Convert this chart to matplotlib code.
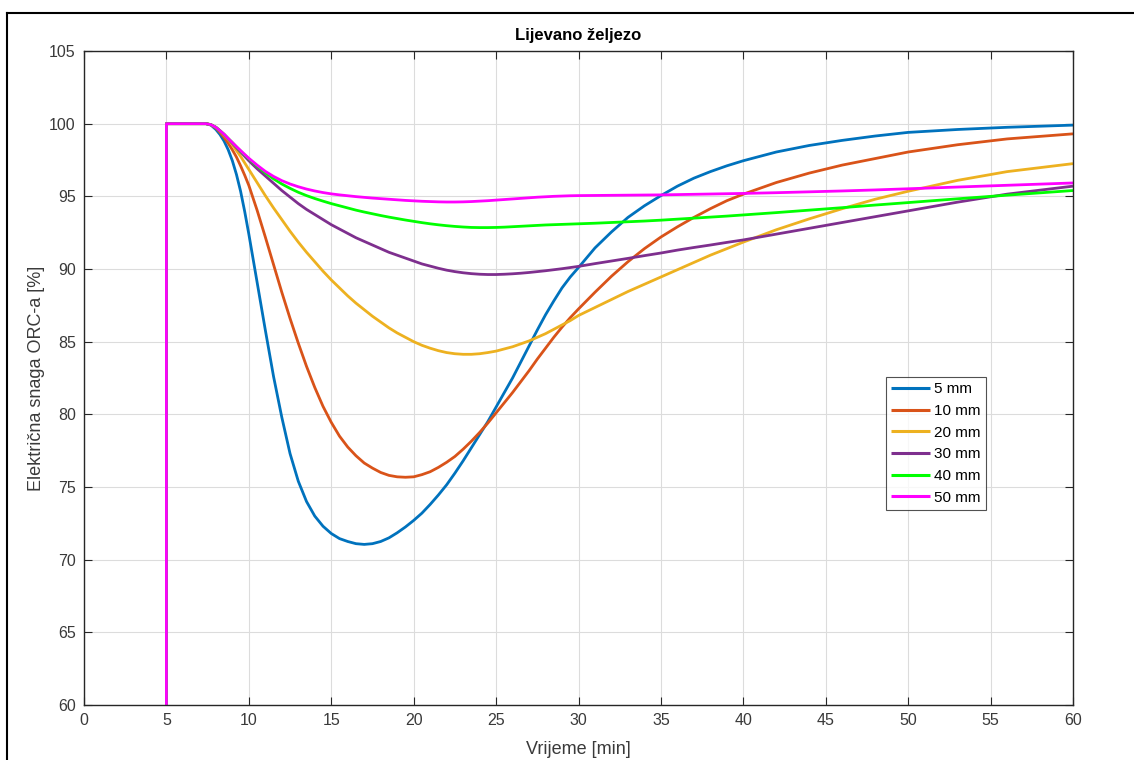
import matplotlib
matplotlib.use("Agg")
import matplotlib.pyplot as plt
from matplotlib.lines import Line2D

plt.rcParams['font.family'] = ['Liberation Sans', 'DejaVu Sans']

# ---- data ----
time_min = [5, 5, 7.4, 7.7, 8, 8.25, 8.5, 8.75, 9, 9.25, 9.5, 9.75, 10,
            10.5, 11, 11.5, 12, 12.5, 13, 13.5, 14, 14.5, 15,
            15.5, 16, 16.5, 17, 17.5, 18, 18.5, 19, 19.5, 20,
            20.5, 21, 21.5, 22, 22.5, 23, 23.5, 24, 24.5, 25,
            25.5, 26, 26.5, 27, 27.5, 28, 28.5, 29, 29.5, 30,
            31, 32, 33, 34, 35, 36, 37, 38, 39, 40,
            42, 44, 46, 48, 50, 53, 56, 60]

p_5mm = [60, 100, 100, 99.9, 99.6, 99.25, 98.8, 98.2, 97.45, 96.5, 95.35, 93.95, 92.4,
         89.1, 85.8, 82.6, 79.8, 77.3, 75.4, 74.0, 73.0, 72.3, 71.8,
         71.45, 71.25, 71.1, 71.05, 71.1, 71.25, 71.5, 71.85, 72.25, 72.7,
         73.2, 73.8, 74.45, 75.15, 75.95, 76.8, 77.7, 78.6, 79.5, 80.5,
         81.5, 82.5, 83.6, 84.7, 85.8, 86.85, 87.8, 88.7, 89.45, 90.1,
         91.45, 92.55, 93.55, 94.35, 95.05, 95.7, 96.25, 96.7, 97.1, 97.45,
         98.05, 98.5, 98.85, 99.15, 99.4, 99.6, 99.75, 99.9]
p_10mm = [60, 100, 100, 99.92, 99.7, 99.4, 99.05, 98.65, 98.2, 97.7, 97.1, 96.45, 95.75,
          94.05, 92.2, 90.3, 88.4, 86.6, 84.9, 83.3, 81.85, 80.55, 79.45,
          78.5, 77.75, 77.15, 76.65, 76.3, 76.0, 75.8, 75.7, 75.67, 75.7,
          75.85, 76.05, 76.35, 76.7, 77.1, 77.6, 78.15, 78.75, 79.4, 80.1,
          80.8, 81.5, 82.25, 83.0, 83.8, 84.55, 85.3, 86.0, 86.65, 87.25,
          88.4, 89.5, 90.5, 91.4, 92.2, 92.9, 93.55, 94.15, 94.7, 95.15,
          95.95, 96.6, 97.15, 97.6, 98.05, 98.55, 98.95, 99.3]
p_20mm = [60, 100, 100, 99.93, 99.75, 99.5, 99.2, 98.9, 98.55, 98.15, 97.75, 97.3, 96.85,
          95.95, 95.05, 94.2, 93.4, 92.6, 91.85, 91.15, 90.5, 89.85, 89.25,
          88.7, 88.15, 87.65, 87.2, 86.75, 86.35, 85.95, 85.6, 85.3, 85.0,
          84.75, 84.55, 84.38, 84.25, 84.17, 84.13, 84.13, 84.17, 84.25, 84.35,
          84.5, 84.65, 84.85, 85.05, 85.3, 85.55, 85.85, 86.15, 86.45, 86.8,
          87.35, 87.9, 88.45, 88.95, 89.45, 89.95, 90.45, 90.95, 91.4, 91.85,
          92.7, 93.45, 94.15, 94.8, 95.35, 96.1, 96.7, 97.25]
p_30mm = [60, 100, 100, 99.93, 99.75, 99.5, 99.25, 98.95, 98.65, 98.35, 98.05, 97.75, 97.45,
          96.9, 96.4, 95.9, 95.4, 94.95, 94.5, 94.1, 93.75, 93.4, 93.05,
          92.75, 92.45, 92.15, 91.9, 91.65, 91.4, 91.15, 90.95, 90.75, 90.55,
          90.35, 90.2, 90.05, 89.92, 89.82, 89.74, 89.68, 89.64, 89.62, 89.62,
          89.64, 89.67, 89.71, 89.76, 89.82, 89.88, 89.95, 90.02, 90.1, 90.18,
          90.37, 90.55, 90.73, 90.92, 91.1, 91.3, 91.48, 91.65, 91.83, 92.0,
          92.4, 92.8, 93.2, 93.6, 94.0, 94.6, 95.15, 95.7]
p_40mm = [60, 100, 100, 99.93, 99.75, 99.52, 99.27, 98.98, 98.7, 98.4, 98.12, 97.85, 97.58,
          97.08, 96.62, 96.2, 95.85, 95.55, 95.28, 95.05, 94.85, 94.67, 94.5,
          94.35, 94.2, 94.05, 93.92, 93.8, 93.68, 93.57, 93.47, 93.37, 93.28,
          93.19, 93.11, 93.04, 92.98, 92.93, 92.89, 92.86, 92.85, 92.85, 92.86,
          92.88, 92.91, 92.94, 92.97, 93.0, 93.03, 93.05, 93.07, 93.09, 93.11,
          93.15, 93.2, 93.25, 93.3, 93.36, 93.43, 93.5, 93.57, 93.64, 93.72,
          93.88, 94.05, 94.22, 94.4, 94.57, 94.83, 95.08, 95.4]
p_50mm = [60, 100, 100, 99.93, 99.75, 99.52, 99.27, 98.98, 98.7, 98.42, 98.15, 97.88, 97.62,
          97.15, 96.72, 96.37, 96.08, 95.85, 95.66, 95.5, 95.37, 95.26, 95.17,
          95.1, 95.04, 94.98, 94.93, 94.88, 94.84, 94.8, 94.76, 94.72, 94.69,
          94.66, 94.64, 94.62, 94.61, 94.61, 94.62, 94.64, 94.67, 94.7, 94.74,
          94.78, 94.82, 94.86, 94.9, 94.94, 94.97, 95.0, 95.02, 95.04, 95.05,
          95.06, 95.07, 95.08, 95.09, 95.1, 95.12, 95.14, 95.16, 95.18, 95.2,
          95.25, 95.31, 95.37, 95.44, 95.52, 95.64, 95.76, 95.92]

labels = ['5 mm', '10 mm', '20 mm', '30 mm', '40 mm', '50 mm']
series = [p_5mm, p_10mm, p_20mm, p_30mm, p_40mm, p_50mm]
colors = ['#0072BD', '#D95319', '#EDB120', '#7E2F8E', '#00FF00', '#FF00FF']

x_ticks = list(range(0, 61, 5))
y_ticks = list(range(60, 106, 5))

# ---- figure ----
fig = plt.figure(figsize=(11.34, 7.6), dpi=100)
ax = fig.add_axes([84 / 1134, 55 / 760, 989 / 1134, 654 / 760])

for vals, lab, col in zip(series, labels, colors):
    ax.plot(time_min, vals, color=col, lw=2.0, label=lab,
            solid_joinstyle='round', solid_capstyle='butt')

ax.set_xlim(0, 60)
ax.set_ylim(60, 105)
ax.set_xticks(x_ticks)
ax.set_yticks(y_ticks)
ax.grid(True, color='#dcdcdc', lw=0.8)
ax.set_axisbelow(True)

tick_col = '#262626'
ax.tick_params(axis='both', which='both', direction='in', length=6, width=0.8,
               top=True, right=True, labelsize=11.5, labelcolor='#3a3a3a',
               color=tick_col, pad=6)
for sp in ax.spines.values():
    sp.set_color(tick_col)
    sp.set_linewidth(1.0)

ax.set_title('Lijevano željezo', fontsize=12, fontweight='bold', color='black', pad=8)
ax.set_xlabel('Vrijeme [min]', fontsize=13, color='#3a3a3a', labelpad=9)
ax.set_ylabel('Električna snaga ORC-a [%]', fontsize=13, color='#3a3a3a', labelpad=3)

leg = ax.legend(loc='upper left', bbox_to_anchor=(0.8105, 0.5015), fontsize=11,
                frameon=True, fancybox=False, handlelength=2.55, handletextpad=0.3,
                borderpad=0.35, labelspacing=0.5, borderaxespad=0.0)
leg.get_frame().set_edgecolor('#262626')
leg.get_frame().set_linewidth(0.8)
for line in leg.get_lines():
    line.set_linewidth(2.2)

# outer figure border (left and top edges visible)
fig.add_artist(Line2D([7 / 1134, 7 / 1134], [0, 1 - 13 / 760], color='black', lw=1.5,
                      transform=fig.transFigure))
fig.add_artist(Line2D([7 / 1134, 1], [1 - 13 / 760, 1 - 13 / 760], color='black', lw=1.5,
                      transform=fig.transFigure))

fig.savefig('out.png', dpi=100)
